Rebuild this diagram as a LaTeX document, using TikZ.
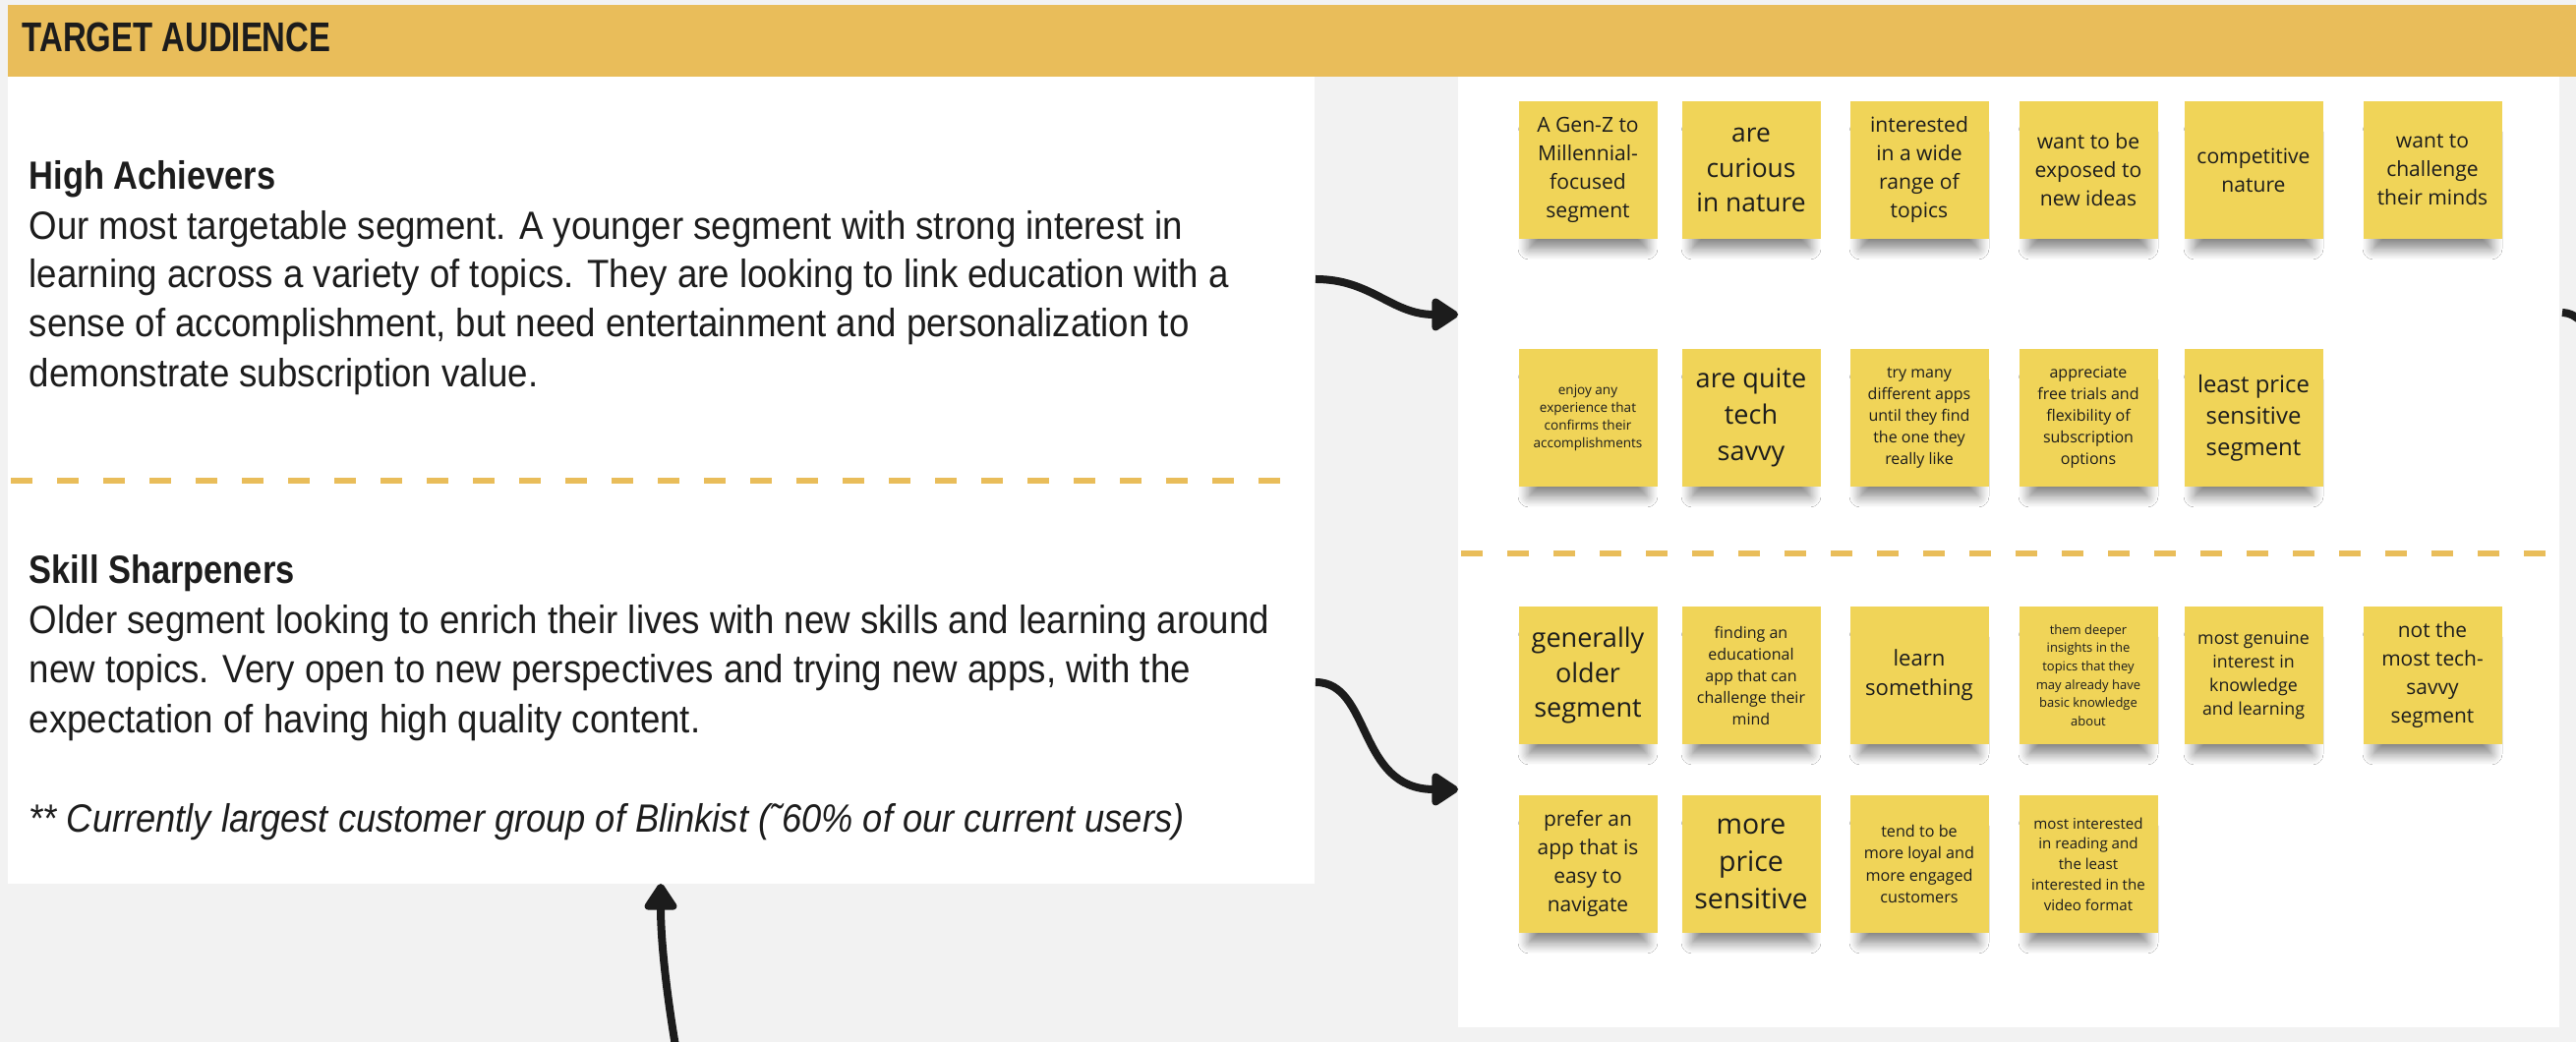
\documentclass[tikz,border=0pt]{standalone}
\usepackage{fontspec}
\setmainfont{Liberation Sans}[FakeStretch=0.915,
  BoldFeatures={FakeStretch=0.86}, ItalicFeatures={FakeStretch=0.905}]
\newfontfamily\titlefont{Liberation Sans}[FakeStretch=0.78]
\newfontfamily\notefont{Open Sans}
\usepackage{tikz}
\usetikzlibrary{arrows.meta, positioning, shadows, shadows.blur}
\definecolor{CanvasGray}{RGB}{242,242,242}
\definecolor{HeadGold}{RGB}{233,189,90}
\definecolor{NoteYellow}{RGB}{240,212,88}
\definecolor{InkBlack}{RGB}{28,28,28}
\tikzset{
  sticky/.style={
    rectangle, fill=NoteYellow,
    minimum width=1.41cm, minimum height=1.40cm,
    inner sep=1pt, align=center, text=InkBlack,
    blur shadow={shadow xshift=0pt, shadow yshift=-2.4mm, shadow scale=0.85,
                 shadow blur radius=1.3mm, shadow blur steps=10, shadow opacity=50}
  },
  notesz/.style 2 args={font=\notefont\fontsize{#1}{#2}\selectfont},
  hd/.style={anchor=base west, inner sep=0pt, text=InkBlack,
    font=\bfseries\fontsize{11.4}{14}\selectfont},
  body/.style={anchor=base west, inner sep=0pt, text=InkBlack,
    font=\fontsize{11.4}{14}\selectfont},
  divider/.style={draw=HeadGold, line width=0.6mm, dash pattern=on 2.2mm off 2.5mm},
  curvy/.style={-{Triangle[length=3mm, width=3.7mm, round]}, draw=InkBlack, line width=0.8mm}
}

\begin{document}
\begin{tikzpicture}
  \useasboundingbox (0,0) rectangle (26.2,10.6);
  \fill[CanvasGray] (0,0) rectangle (26.2,10.6);

  % Panels
  \fill[HeadGold] (0.08,9.82) rectangle (26.2,10.55);
  \fill[white] (0.08,1.61) rectangle (13.37,9.82);
  \fill[white] (14.83,0.15) rectangle (26.03,9.82);
  \draw[divider] (0.11,5.71) -- (13.16,5.71);
  \draw[divider] (14.86,4.97) -- (26.03,4.97);

  \node[anchor=base west, inner sep=0pt, text=InkBlack,
        font=\titlefont\bfseries\fontsize{12}{14}\selectfont] (title) at (0.22,10.07) {TARGET AUDIENCE};

  % Segment texts
  \node[hd] (ha) at (0.29,8.67) {High Achievers};
  \foreach \y/\t [count=\i] in {
    8.16/{Our most targetable segment. A younger segment with strong interest in},
    7.67/{learning across a variety of topics. They are looking to link education with a},
    7.17/{sense of accomplishment, but need entertainment and personalization to},
    6.66/{demonstrate subscription value.}} {
    \node[body] (ha\i) at (0.29,\y) {\t};
  }
  \node[hd] (ss) at (0.29,4.66) {Skill Sharpeners};
  \foreach \y/\t [count=\i] in {
    4.15/{Older segment looking to enrich their lives with new skills and learning around},
    3.65/{new topics. Very open to new perspectives and trying new apps, with the},
    3.14/{expectation of having high quality content.}} {
    \node[body] (ss\i) at (0.29,\y) {\t};
  }
  \node[body, font=\itshape\fontsize{11.4}{14}\selectfont] (ssnote) at (0.29,2.13)
       {** Currently largest customer group of Blinkist (˜60\% of our current users)};

  % Sticky notes -- high achievers
  \node[sticky, notesz={6}{8.25}]   (a1) at (16.15,8.87) {A Gen-Z to\\Millennial-\\focused\\segment};
  \node[sticky, notesz={7.5}{10.2}] (a2) at (17.81,8.87) {are\\curious\\in nature};
  \node[sticky, notesz={6}{8.25}]   (a3) at (19.52,8.87) {interested\\in a wide\\range of\\topics};
  \node[sticky, notesz={6}{8.25}]   (a4) at (21.24,8.87) {want to be\\exposed to\\new ideas};
  \node[sticky, notesz={6}{8.25}]   (a5) at (22.92,8.87) {competitive\\nature};
  \node[sticky, notesz={6}{8.25}]   (a6) at (24.74,8.87) {want to\\challenge\\their minds};
  \node[sticky, notesz={3.85}{5.1}] (a7) at (16.15,6.35) {enjoy any\\experience that\\confirms their\\accomplishments};
  \node[sticky, notesz={7.7}{10.5}] (a8) at (17.81,6.35) {are quite\\tech\\savvy};
  \node[sticky, notesz={4.55}{6.26}] (a9) at (19.52,6.35) {try many\\different apps\\until they find\\the one they\\really like};
  \node[sticky, notesz={4.55}{6.26}] (a10) at (21.24,6.35) {appreciate\\free trials and\\flexibility of\\subscription\\options};
  \node[sticky, notesz={6.8}{9.1}]  (a11) at (22.92,6.35) {least price\\sensitive\\segment};

  % Sticky notes -- skill sharpeners
  \node[sticky, notesz={7.7}{10.2}] (b1) at (16.15,3.73) {generally\\older\\segment};
  \node[sticky, notesz={4.55}{6.26}] (b2) at (17.81,3.73) {finding an\\educational\\app that can\\challenge their\\mind};
  \node[sticky, notesz={6.3}{8.5}]  (b3) at (19.52,3.73) {learn\\something};
  \node[sticky, notesz={3.7}{5.3}]  (b4) at (21.24,3.73) {them deeper\\insights in the\\topics that they\\may already have\\basic knowledge\\about};
  \node[sticky, notesz={5.06}{6.9}] (b5) at (22.92,3.73) {most genuine\\interest in\\knowledge\\and learning};
  \node[sticky, notesz={5.95}{8.25}] (b6) at (24.74,3.73) {not the\\most tech-\\savvy\\segment};
  \node[sticky, notesz={5.95}{8.25}] (b7) at (16.15,1.81) {prefer an\\app that is\\easy to\\navigate};
  \node[sticky, notesz={8.1}{10.9}] (b8) at (17.81,1.81) {more\\price\\sensitive};
  \node[sticky, notesz={4.6}{6.3}]  (b9) at (19.52,1.81) {tend to be\\more loyal and\\more engaged\\customers};
  \node[sticky, notesz={4.3}{5.9}]  (b10) at (21.24,1.81) {most interested\\in reading and\\the least\\interested in the\\video format};

  % Arrows
  \coordinate (haout) at (13.38,7.76);
  \coordinate (hain)  at (14.83,7.40);
  \coordinate (ssout) at (13.38,3.66);
  \coordinate (ssin)  at (14.83,2.57);
  \coordinate (upsrc) at (6.88,-0.1);
  \coordinate (upin)  at (6.72,1.61);
  \coordinate (rtout) at (26.06,7.42);
  \coordinate (rtend) at (26.3,7.30);
  \draw[curvy] (haout) .. controls (13.95,7.76) and (14.15,7.40) .. (hain);
  \draw[curvy] (ssout) .. controls (13.95,3.66) and (13.8,2.57) .. (ssin);
  \draw[curvy] (upsrc) .. controls (6.76,0.6) and (6.72,1.1) .. (upin);
  \draw[draw=InkBlack, line width=0.8mm] (rtout) .. controls (26.15,7.41) .. (rtend);
\end{tikzpicture}
\end{document}
